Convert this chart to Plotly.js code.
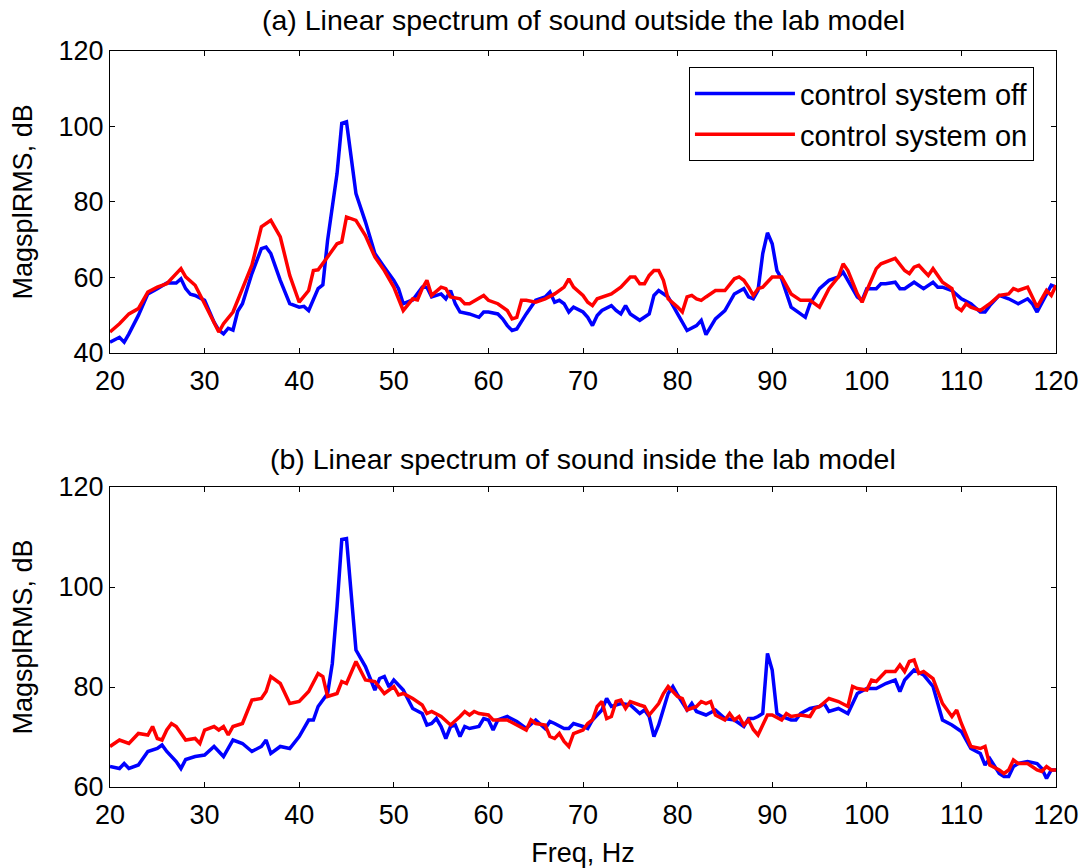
<!DOCTYPE html>
<html>
<head>
<meta charset="utf-8">
<script src="https://cdn.plot.ly/plotly-3.0.1.min.js"></script>
<style>html,body{margin:0;padding:0;background:#fff;}#chart{width:1084px;height:868px;}</style>
</head>
<body>
<div id="chart"></div>
<script>
// (a) outside the lab model — control system off
const freqTopOff = [
  20,21,21.5,22,23,24,25,26,27,27.5,
  28,28.5,29,30,30.5,31,31.5,32,32.5,33,
  33.5,34,35,36,36.5,37,38,39,40,40.5,
  41,42,42.5,43,44,44.5,45,46,47,48,
  49,50,50.5,51,52,53,53.5,54,55,55.5,
  56,56.5,57,58,59,59.5,60,61,61.5,62,
  62.5,63,64,65,66,66.5,67,67.5,68,68.5,
  69,70,70.5,71,71.5,72,73,73.5,74,74.5,
  75,76,77,77.5,78,79,80,81,82,82.5,
  83,84,85,86,87,87.5,88,88.5,89,89.5,
  90,90.5,91,92,93,93.5,94,95,96,97,
  97.5,98,99,99.5,100,101,101.5,102,103,103.5,
  104,105,106,107,107.5,108,109,110,111,112,
  112.5,113,114,115,116,117,117.5,118,119,119.5,
  120];
const magTopOff = [
  42.8,44.1,42.8,45,49.9,55.6,57,58.5,58.5,59.6,
  57,55.5,55.2,53.9,51,48.1,46,45,46.5,46,
  51,53,61,67.6,68,66.3,59.2,53,52.1,52.3,
  51.2,57,58,69.8,87.5,100.8,101.2,82.2,74.7,66.3,
  62.7,59.2,57,53,54,57.4,57.4,54.8,55.6,54.3,
  56.5,53,50.8,50.3,49.4,50.8,50.8,50.3,49,47.2,
  45.9,46.3,50.3,53.9,54.8,56.1,53.4,53.9,53,50.8,
  52.1,50.8,49.4,47.2,49.9,51.2,52.5,51.2,50.3,52.5,
  50.3,48.6,50.3,55.2,56.5,54.8,50.3,45.9,47.2,48.6,
  44.8,49,51.2,55.6,57,54.8,54.3,56.5,66.3,71.8,
  68.9,61.8,59.6,52.1,50.3,49.4,53,57,59.2,60.1,
  61.4,59.2,54.8,53.9,57,57,58.3,58.3,58.7,57,
  57,58.7,57,58.7,57.4,57.4,56.5,54.3,53,50.8,
  50.8,52.5,55.2,54.3,53,54.3,53,50.8,55.6,57.9,
  57.4];

// (a) outside the lab model — control system on
const freqTopOn = [
  20,21,22,23,24,25,26,27,27.5,28,
  29,30,31,31.5,32,33,34,35,36,37,
  38,39,40,41,41.5,42,43,44,44.5,45,
  46,47,48,49,50,51,52,52.5,53,53.5,
  54,55,55.5,56,57,57.5,58,59,59.5,60,
  61,62,62.5,63,63.5,64,65,66,67,68,
  68.5,69,70,70.5,71,71.5,72,73,74,75,
  75.5,76,76.5,77,77.5,78,78.5,79,80,80.5,
  81,81.5,82,82.5,83,84,85,86,86.5,87,
  87.5,88,88.5,89,90,91,92,93,94,95,
  96,97,97.5,98,99,99.5,100,101,101.5,102,
  103,104,104.5,105,105.5,106,106.5,107,108,109,
  109.5,110,110.5,111,112,113,114,115,115.5,116,
  117,117.5,118,119,119.5,120];
const magTopOn = [
  45.5,47.7,50.3,51.7,56.1,57.4,58.3,61,62.3,60.1,
  57.9,53,47.7,45.5,47.7,50.8,57,63.2,73.4,75.1,
  70.7,60.5,53.4,56.5,61.8,62,65.4,68.9,69.4,76,
  75.1,71.1,65.4,61.8,57.4,51.2,54.3,54,57,59.2,
  55.2,57.4,57,54.8,54.3,53,53,54.3,55.2,53.9,
  53,51.2,49,49.4,53.9,53.9,53.4,54.3,55.6,57.4,
  59.6,57.4,55.2,53.4,52.5,54.3,54.8,55.6,57.4,60.1,
  60.1,58.3,58.3,60.5,61.8,61.8,59.2,54.3,52.1,50.8,
  54.8,55.2,54.3,53.9,54.8,56.5,56.5,59.6,60.1,59.2,
  57.4,55.2,57,57.4,60.1,60.1,55.6,53.9,53.9,52.1,
  57,60.1,63.6,61.8,55.6,53.4,56.5,62.3,63.6,64.1,
  65,61.8,61,62.7,63.2,61.8,60.5,62.3,58.7,57,
  52.1,51.2,53,52.1,51.2,53,55.2,55.6,57,56.5,
  57.4,54.8,52.1,56.5,55.2,57.9];

// (b) inside the lab model — control system off
const freqBotOff = [
  20,21,21.5,22,23,24,25,25.5,26,27,
  27.5,28,29,30,31,32,33,34,35,36,
  36.5,37,38,39,40,41,41.5,42,43,43.5,
  44,44.5,45,46,47,48,48.5,49,49.5,50,
  51,52,53,53.5,54,54.5,55,55.5,56,56.5,
  57,57.5,58,59,59.5,60,60.5,61,62,63,
  64,65,66,66.5,67,68,68.5,69,70,70.5,
  71,72,72.5,73,74,75,76,76.5,77,77.5,
  78,79,79.5,80,81,81.5,82,83,84,85,
  86,87,87.5,88,88.5,89,89.5,90,90.5,91,
  92,92.5,93,94,95,95.5,96,97,98,99,
  100,101,102,103,103.5,104,105,106,107,108,
  109,110,111,112,112.5,113,114,114.5,115,115.5,
  116,117,118,118.5,119,119.5,120];
const magBotOff = [
  64.1,63.7,64.7,63.7,64.4,67.1,67.7,68.4,67.1,65.1,
  63.7,65.5,66.1,66.4,68.1,66.1,69.4,68.7,67.1,68.1,
  69.4,66.7,68.1,67.7,70.1,73.4,73.4,76.1,78.7,84.7,
  96.1,109.5,109.7,87.4,84.1,79.4,81.7,82.1,80,81.4,
  79.4,75.7,74.7,72.4,72.7,73.7,72.1,69.7,72.1,72.4,
  70.1,72.1,71.7,72.1,73.7,73.4,71.4,73.4,74.1,73.1,
  71.7,73.4,71.7,73.1,72.7,71.7,71.7,72.7,72.1,71.7,
  73.4,75.4,77.7,76.1,76.7,76.4,74.7,75.4,74.1,70.1,
  72.4,78.7,80.1,78.4,75.4,76.7,75.1,74.4,75.4,73.7,
  73.4,72.1,73.7,73.7,74.1,74.7,86.7,83.4,74.7,74.1,
  73.4,73.4,74.7,75.7,76.1,76.7,75.1,75.7,74.7,78.7,
  79.7,79.7,80.7,81.4,79.1,81.4,83.4,82.4,80.1,73.4,
  72.4,71.1,67.7,66.7,64.4,65.7,62.7,62.1,62.1,64.1,
  64.7,65.1,64.7,63.7,61.7,63.4,63.4];

// (b) inside the lab model — control system on
const freqBotOn = [
  20,21,22,23,24,24.5,25,25.5,26,26.5,
  27,28,29,29.5,30,31,31.5,32,32.5,33,
  34,35,36,36.5,37,38,39,40,41,42,
  42.5,43,44,44.5,45,46,47,48,49,50,
  50.5,51,52,53,53.5,54,55,56,57,57.5,
  58,58.5,59,60,60.5,61,62,63,64,64.5,
  65,66,66.5,67,67.5,68,68.5,69,70,70.5,
  71,71.5,72,72.5,73,73.5,74,74.5,75,76,
  76.5,77,78,78.5,79,80,80.5,81,82,82.5,
  83,83.5,84,85,85.5,86,86.5,87,87.5,88,
  88.5,89,89.5,90,91,91.5,92,93,94,94.5,
  95,96,97,98,98.5,99,100,100.5,101,102,
  103,103.5,104,104.5,105,105.5,106,107,108,109,
  109.5,110,111,112,112.5,113,114,114.5,115,115.5,
  116,117,118,118.5,119,119.5,120];
const magBotOn = [
  68.1,69.4,68.7,70.7,70.4,72.1,69.7,69.4,71.4,72.7,
  72.1,69.4,69.7,68.7,71.4,72.1,71.4,72.1,70.4,72.1,
  72.7,77.4,77.7,79.1,82.1,80.7,76.7,77.1,79.1,82.7,
  82.1,78.1,78.7,81.1,80.7,85.1,81.4,81.1,78.7,80.1,
  78.4,78.7,77.7,76.4,74.7,75.1,74.1,72.4,74.1,75.1,
  74.4,75.1,74.7,74.4,73.4,73.4,73.4,72.4,71.4,73.4,
  72.7,72.4,70.1,69.7,70.7,69.1,68.1,70.7,71.4,72.7,
  73.4,76.1,77.1,73.7,74.1,77.1,77.4,75.7,77.1,76.4,
  76.1,74.4,76.7,78.7,80.1,78.1,77.7,75.4,76.1,77.1,
  76.7,77.1,74.4,73.4,74.7,73.4,74.1,72.4,73.4,71.5,
  70.4,72.4,74.4,74.4,73.4,74.7,74.1,74.4,74.1,75.7,
  76.1,77.7,77.1,76.1,80.1,79.7,79.4,81.4,81.1,83.1,
  83.1,84.4,83.1,85.1,85.4,82.7,83.1,81.7,76.7,74.1,
  75.4,72.7,68.1,67.7,68.1,64.4,63.4,62.7,63.4,65.4,
  64.7,64.7,63.4,63.1,64.1,63.4,63.4];

const seriesNames = ['control system off', 'control system on'];
const panelTitles = ['(a) Linear spectrum of sound outside the lab model',
                     '(b) Linear spectrum of sound inside the lab model'];
const xTitle = 'Freq, Hz';
const yTitle = 'MagsplRMS, dB';

const FONT = 'Liberation Sans, Arial, Helvetica, sans-serif';
const FS = 27;
const BLUE = '#0000ff', RED = '#ff0000';
const LW = 3.5;

const traces = [
  {x: freqTopOff, y: magTopOff, name: seriesNames[0], xaxis: 'x', yaxis: 'y', mode: 'lines',
   line: {color: BLUE, width: LW}, legendgroup: 'off'},
  {x: freqTopOn, y: magTopOn, name: seriesNames[1], xaxis: 'x', yaxis: 'y', mode: 'lines',
   line: {color: RED, width: LW}, legendgroup: 'on'},
  {x: freqBotOff, y: magBotOff, name: seriesNames[0], xaxis: 'x2', yaxis: 'y2', mode: 'lines',
   line: {color: BLUE, width: LW}, showlegend: false, legendgroup: 'off'},
  {x: freqBotOn, y: magBotOn, name: seriesNames[1], xaxis: 'x2', yaxis: 'y2', mode: 'lines',
   line: {color: RED, width: LW}, showlegend: false, legendgroup: 'on'}
];

const axCommon = {
  showline: true, linecolor: '#000', linewidth: 1, mirror: 'ticks',
  ticks: 'inside', ticklen: 5, tickcolor: '#000', tickwidth: 1,
  showgrid: false, zeroline: false,
  tickfont: {family: FONT, size: FS, color: '#000'}
};

const layout = {
  width: 1084, height: 868,
  margin: {l: 110, r: 28, t: 51, b: 81},
  paper_bgcolor: '#fff', plot_bgcolor: '#fff',
  font: {family: FONT, size: FS, color: '#000'},
  showlegend: true,
  legend: {
    x: 0.612, y: 0.978, xanchor: 'left', yanchor: 'top',
    bordercolor: '#000', borderwidth: 1, bgcolor: '#fff',
    font: {family: FONT, size: 29, color: '#000'},
    itemwidth: 100, tracegroupgap: 0
  },
  xaxis: Object.assign({}, axCommon, {domain: [0, 1], anchor: 'y', range: [20, 120], tick0: 0, dtick: 10,
    ticklabelstandoff: 4}),
  yaxis: Object.assign({}, axCommon, {domain: [0.59, 1], anchor: 'x', range: [40, 120], tick0: 0, dtick: 20,
    title: {text: yTitle, font: {family: FONT, size: FS}, standoff: 18}}),
  xaxis2: Object.assign({}, axCommon, {domain: [0, 1], anchor: 'y2', range: [20, 120], tick0: 0, dtick: 10,
    ticklabelstandoff: 4,
    title: {text: xTitle, font: {family: FONT, size: FS}, standoff: 14}}),
  yaxis2: Object.assign({}, axCommon, {domain: [0, 0.4076], anchor: 'x2', range: [60, 120], tick0: 0, dtick: 20,
    title: {text: yTitle, font: {family: FONT, size: FS}, standoff: 18}}),
  annotations: [
    {text: panelTitles[0], xref: 'paper', yref: 'paper', x: 0.5, y: 1.042, xanchor: 'center', yanchor: 'middle',
     showarrow: false, font: {family: FONT, size: 28.5, color: '#000'}},
    {text: panelTitles[1], xref: 'paper', yref: 'paper', x: 0.5, y: 0.4457, xanchor: 'center', yanchor: 'middle',
     showarrow: false, font: {family: FONT, size: 28.5, color: '#000'}}
  ]
};

Plotly.newPlot('chart', traces, layout, {staticPlot: true, displayModeBar: false});
</script>
</body>
</html>
